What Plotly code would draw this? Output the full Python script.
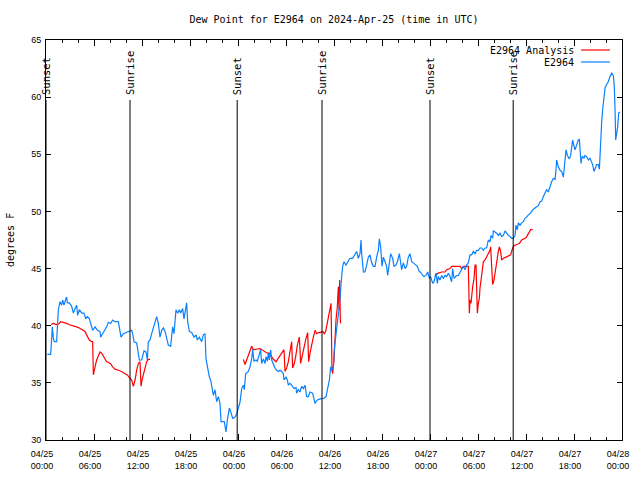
import pandas as pd
import plotly.graph_objects as go

# ---------------- data (hours after 2024-04-25 00:00 UTC, dew point in F) ----------------
blue_hours = [
    0.17, 0.58, 0.71, 0.79, 0.92, 1.04, 1.33, 1.54, 1.75, 1.96, 2.08, 2.25, 2.5, 2.58, 2.67,
    2.92, 3.21, 3.42, 3.63, 3.83, 3.96, 4.17, 4.46, 4.75, 4.96, 5.17, 5.42, 5.58, 5.83, 6.13,
    6.42, 6.75, 6.83, 7.08, 7.38, 7.58, 7.79, 8.08, 8.33, 8.63, 9.04, 9.25, 9.38, 9.67, 10.0,
    10.42, 10.71, 10.83, 11.0, 11.33, 11.54, 11.67, 11.96, 12.25, 12.5, 12.67, 12.79, 13.0, 13.21, 13.42,
    13.63, 13.83, 14.04, 14.25, 14.46, 14.67, 14.88, 15.08, 15.29, 15.58, 15.71, 15.83, 16.0, 16.13, 16.25,
    16.46, 16.67, 16.83, 17.08, 17.25, 17.5, 17.58, 17.71, 17.92, 18.21, 18.5, 18.75, 18.92, 19.17, 19.46,
    19.67, 19.88, 20.0, 20.17, 20.42, 20.58, 20.83, 20.92, 21.13, 21.33, 21.54, 21.75, 21.88, 22.29, 22.38,
    22.5, 22.67, 22.92, 23.08, 23.33, 23.63, 23.83, 24.04,
    24.25, 24.46, 24.67, 24.79, 24.96, 25.29, 25.5, 25.71, 25.83, 26.0, 26.25, 26.42, 26.67, 26.83, 26.96,
    27.17, 27.38, 27.5, 27.67, 27.79, 27.92, 28.08, 28.21, 28.42, 28.63, 28.83, 29.04, 29.25, 29.46, 29.67,
    29.75, 30.0, 30.17, 30.29, 30.5, 30.71, 31.0, 31.25, 31.33, 31.54, 31.75, 31.96, 32.17, 32.38, 32.58,
    32.79, 33.0, 33.33, 33.5, 33.63, 33.75, 33.92, 34.25, 34.46, 34.75, 35.0, 35.17,
    35.29, 35.42, 35.58, 35.71, 35.92, 36.04, 36.21, 36.33, 36.46, 36.67, 36.83, 36.96, 37.08, 37.25, 37.5,
    37.79, 38.0, 38.33, 38.63, 38.83, 39.04, 39.25, 39.38, 39.46, 39.67, 39.88, 40.08, 40.29, 40.5, 40.71,
    40.92, 41.13, 41.33, 41.54, 41.67, 41.83, 42.0, 42.17, 42.38, 42.58, 42.71, 42.92, 43.08, 43.33, 43.5,
    43.75, 43.92, 44.17, 44.33, 44.46, 44.67, 44.88, 45.08, 45.29, 45.5, 45.71, 45.92, 46.25, 46.42, 46.67,
    46.83, 47.08, 47.25, 47.5, 47.71, 47.92, 48.08, 48.33, 48.5, 48.75, 48.92, 49.04, 49.25, 49.46, 49.67,
    49.88, 50.08, 50.29, 50.5, 50.71, 50.83, 51.0, 51.25, 51.54, 51.75,
    51.96, 52.17, 52.38, 52.58, 52.79, 53.0, 53.21, 53.42, 53.63, 53.83, 54.04, 54.25, 54.46, 54.67, 54.88,
    55.08, 55.29, 55.5, 55.63, 55.83, 55.92, 56.13, 56.33, 56.54, 56.75, 56.96, 57.17, 57.38, 57.58, 57.79,
    58.0, 58.21, 58.42, 58.63, 58.75, 58.92, 59.04, 59.25, 59.46, 59.67, 59.88, 60.08, 60.29, 60.5, 60.71,
    60.92,
    61.33, 61.54, 61.75, 61.96, 62.17, 62.38, 62.58, 62.79, 63.0, 63.21, 63.42, 63.63, 63.75, 63.83, 64.04,
    64.25, 64.46, 64.67, 64.88, 65.0, 65.17, 65.42, 65.58, 65.71, 65.83, 66.0, 66.13, 66.33, 66.54, 66.67,
    66.75, 66.88, 66.96, 67.08, 67.25, 67.38, 67.58, 67.79, 68.0, 68.21, 68.33, 68.5, 68.63, 68.83, 69.04,
    69.17, 69.25, 69.33, 69.46, 69.58, 69.75, 69.88, 70.08, 70.29, 70.5, 70.71, 70.92, 71.04, 71.13, 71.21,
    71.33, 71.46, 71.58, 71.75,
]
blue_values = [
    37.5, 37.5, 38.9, 39.9, 38.9, 38.6, 38.6, 41.4, 42.1, 41.8, 42.25, 41.8, 42.4, 42.5, 42.0,
    42.0, 41.7, 41.1, 41.5, 41.8, 40.9, 41.4, 41.1, 41.1, 40.6, 40.8, 40.6, 40.1, 39.6, 39.9,
    39.6, 39.5, 39.0, 39.3, 39.6, 39.9, 40.3, 40.2, 40.5, 40.35, 40.35, 39.3, 39.0, 39.3, 39.4,
    39.5, 39.6, 39.3, 38.6, 38.5, 37.7, 37.0, 37.0, 37.8, 37.7, 37.0, 38.6, 38.75, 39.3, 39.8,
    40.2, 40.8, 40.2, 39.0, 39.6, 39.8, 39.5, 38.75, 38.3, 38.2, 39.0, 39.9, 39.3, 40.1, 41.4,
    41.1, 41.4, 41.1, 41.5, 40.6, 41.5, 42.0, 40.35, 39.5, 39.4, 39.0, 39.2, 38.75, 39.0, 38.6,
    39.2, 39.3, 37.1, 36.3, 35.5, 35.25, 34.4, 33.9, 34.4, 33.35, 33.8, 33.2, 31.6, 31.6, 31.2,
    30.7, 31.75, 32.8, 32.5, 31.9, 32.0, 32.3, 32.8,
    33.3, 34.5, 34.8, 34.4, 35.8, 36.0, 36.4, 37.1, 37.9, 36.9, 37.0, 36.9, 37.6, 37.9, 36.7,
    37.1, 36.7, 37.3, 36.9, 37.6, 37.0, 37.9, 37.0, 36.6, 36.3, 36.1, 36.0, 36.1, 36.0, 35.8,
    35.25, 35.5, 35.25, 34.8, 34.96, 34.8, 34.5, 34.6, 34.1, 34.4, 34.2, 34.7, 34.5, 34.8, 33.8,
    33.8, 34.2, 34.1, 33.5, 33.2, 33.35, 33.5, 33.6, 33.65, 33.65, 33.8, 34.4,
    34.5, 35.25, 36.4, 36.1, 36.4, 38.0, 39.0, 39.9, 40.5, 41.7, 42.8, 44.3, 45.2, 45.6, 45.3,
    45.6, 45.9, 45.9, 46.2, 46.5, 45.9, 46.3, 47.5, 46.3, 44.7, 44.7, 45.3, 46.0, 46.2, 45.5,
    45.2, 45.2, 46.0, 46.6, 47.6, 46.9, 45.2, 46.0, 45.6, 45.2, 44.4, 45.6, 46.3, 45.9, 45.2,
    45.3, 45.6, 46.3, 45.3, 44.9, 45.5, 45.0, 45.2, 46.0, 46.3, 45.6, 45.5, 45.3, 45.2, 44.7,
    44.7, 44.4, 44.3, 44.4, 44.7, 44.15, 44.3, 43.7, 43.85, 44.6, 43.7, 44.3, 44.0, 44.4, 44.15,
    44.4, 44.3, 44.6, 44.3, 43.85, 45.0, 44.15, 44.35, 44.4, 44.7,
    45.0, 45.2, 44.9, 45.3, 45.5, 46.2, 46.2, 46.5, 46.3, 46.6, 46.6, 46.8, 46.8, 46.6, 46.8,
    46.8, 47.5, 47.35, 47.9, 47.65, 48.3, 48.2, 48.1, 47.9, 48.1, 47.8, 47.9, 48.3, 48.1, 47.9,
    47.8, 47.65, 47.65, 47.9, 48.8, 48.4, 49.0, 48.8, 49.0, 49.1, 49.4, 49.5, 49.7, 49.8, 50.0,
    50.2,
    50.4, 50.5, 50.85, 50.9, 51.3, 51.6, 51.9, 51.7, 52.2, 52.6, 52.9, 52.8, 53.6, 54.5, 53.9,
    53.6, 53.5, 53.0, 54.5, 55.4, 54.9, 54.6, 54.9, 55.5, 56.25, 55.7, 55.4, 55.8, 56.25, 56.3,
    55.5, 54.2, 54.65, 54.8, 54.65, 54.9, 54.8, 54.5, 54.65, 54.2, 54.1, 53.5, 53.8, 54.1, 54.1,
    53.7, 54.8, 56.5, 57.85, 58.9, 59.75, 60.8, 61.1, 61.35, 61.8, 62.1, 61.9, 60.9, 58.9, 56.25,
    56.8, 57.4, 58.6, 58.7,
]

# Analysis series: three daytime runs, separated by gaps (None)
red_hours = [
    0.63, 0.92, 1.33, 1.67, 1.83, 2.17, 2.58, 3.0, 3.42, 3.83, 4.17, 4.46, 4.88, 5.08, 5.42,
    5.71, 5.83, 5.92, 6.0, 6.13, 6.33, 6.54, 6.75, 6.96, 7.17, 7.38, 7.58, 7.79, 8.08, 8.33,
    8.63, 9.04, 9.46, 9.88, 10.17, 10.5, 10.71, 10.92, 11.13, 11.33, 11.54, 11.75, 11.88, 12.0, 12.17,
    12.38, 12.58, 12.79, 13.0,
    18.0,
    24.67, 24.88, 25.08, 25.29, 25.5, 25.71, 25.92, 26.13, 26.42, 26.75, 26.96, 27.17, 27.38, 27.67, 27.92,
    28.21, 28.42, 28.75, 28.92, 29.17, 29.46, 29.75, 29.88, 30.08, 30.29, 30.5, 30.71, 30.83, 31.0, 31.21,
    31.42, 31.67, 31.83, 32.04, 32.25, 32.5, 32.71, 32.83, 33.0, 33.21, 33.42, 33.63, 33.83, 34.04, 34.25,
    34.58, 34.79, 34.96, 35.17, 35.38, 35.63, 35.75, 35.83, 36.0, 36.13, 36.25, 36.42, 36.54, 36.63, 36.71,
    36.79, 36.83,
    42.0,
    48.6, 49.04, 49.46, 49.88, 50.08, 50.5, 50.71, 51.13, 51.54, 51.75, 51.96, 52.17, 52.58, 52.79, 52.92,
    53.0, 53.13, 53.21, 53.33, 53.5, 53.63, 53.75, 53.83, 53.92, 54.04, 54.17, 54.25, 54.46, 54.67, 54.88,
    55.08, 55.29, 55.5, 55.58, 55.71, 55.83, 56.0, 56.13, 56.33, 56.54, 56.67, 56.83, 56.96, 57.17, 57.5,
    57.79, 58.08, 58.33, 58.5, 58.83, 59.17, 59.46, 59.75, 60.0, 60.17, 60.42, 60.58, 60.83,
]
red_values = [
    40.1, 40.2, 40.1, 40.2, 40.35, 40.3, 40.2, 40.06, 40.0, 39.9, 39.8, 39.7, 39.5, 39.2, 38.75,
    38.6, 38.6, 35.7, 36.1, 36.4, 37.0, 37.4, 37.7, 37.6, 37.3, 37.06, 36.85, 36.8, 36.65, 36.4,
    36.2, 36.1, 36.0, 35.8, 35.7, 35.4, 35.25, 34.7, 35.25, 36.1, 36.7, 36.85, 34.7, 35.25, 35.7,
    36.3, 36.85, 37.06, 37.06,
    None,
    37.06, 36.6, 37.0, 37.4, 37.7, 38.2, 37.9, 37.9, 37.96, 38.0, 37.9, 37.8, 37.7, 37.6, 37.6,
    37.3, 37.06, 36.85, 37.0, 37.3, 37.6, 37.9, 36.0, 36.3, 36.85, 37.9, 38.6, 36.3, 36.6, 37.3,
    38.3, 39.0, 36.7, 37.4, 38.2, 38.9, 39.4, 36.85, 37.6, 38.5, 39.0, 39.6, 39.3, 39.4, 39.4,
    39.5, 39.3, 39.5, 40.2, 40.9, 41.96, 36.1, 35.8, 37.0, 39.0, 40.5, 41.7, 43.4, 41.4, 44.0,
    40.5, 40.2,
    None,
    44.4, 44.6, 44.7, 44.7, 44.9, 45.0, 45.2, 45.2, 45.2, 45.2, 45.0, 45.2, 45.2, 45.2, 41.1,
    42.25, 41.96, 42.7, 43.4, 44.1, 45.3, 45.3, 43.2, 41.1, 41.96, 42.4, 43.3, 44.4, 45.6, 45.75,
    46.0, 46.3, 46.6, 46.9, 45.2, 43.6, 44.0, 44.7, 45.6, 46.5, 46.9, 46.5, 45.75, 45.9, 46.0,
    46.1, 46.2, 46.8, 47.0, 47.1, 47.2, 47.5, 47.6, 47.7, 47.9, 48.2, 48.4, 48.4,
]

event_labels = ["Sunset", "Sunrise", "Sunset", "Sunrise", "Sunset", "Sunrise"]
event_hours = [0.0, 10.5, 23.9, 34.5, 48.0, 58.4]

series_names = ["E2964 Analysis", "E2964"]
series_colors = ["#ff0000", "#0a80ff"]

title_text = "Dew Point for E2964 on 2024-Apr-25 (time in UTC)"
y_title = "degrees F"
y_range = [30, 65]
base = pd.Timestamp("2024-04-25 00:00")
span_hours = 72

assert len(blue_hours) == len(blue_values)
assert len(red_hours) == len(red_values)


def to_time(hours):
    return [base + pd.Timedelta(hours=h) for h in hours]


MONO = "DejaVu Sans Mono"
SANS = "Liberation Sans"

FIG_W, FIG_H = 640, 480

fig = go.Figure()
fig.add_trace(go.Scatter(x=to_time(red_hours), y=red_values, mode="lines",
                         name=series_names[0], connectgaps=False,
                         line=dict(color=series_colors[0], width=1.2)))
fig.add_trace(go.Scatter(x=to_time(blue_hours), y=blue_values, mode="lines",
                         name=series_names[1],
                         line=dict(color=series_colors[1], width=1.2)))

shapes = []
annotations = []
for lbl, h in zip(event_labels, event_hours):
    t = base + pd.Timedelta(hours=h)
    shapes.append(dict(type="line", xref="x", yref="paper", x0=t, x1=t, y0=0, y1=0.85,
                       line=dict(color="black", width=1)))
    annotations.append(dict(x=t, xref="x", y=0.8575, yref="paper", text=lbl, textangle=-90,
                            showarrow=False, xanchor="center", yanchor="bottom",
                            font=dict(family=MONO, size=10.5, color="black")))

# gnuplot-style key: text right-aligned, sample line on the right
key_rows_y = [0.975, 0.945]
for name, col, yy in zip(series_names, series_colors, key_rows_y):
    annotations.append(dict(x=0.920, xref="paper", y=yy, yref="paper", text=name,
                            showarrow=False, xanchor="right", yanchor="middle",
                            font=dict(family=MONO, size=10, color="black")))
    shapes.append(dict(type="line", xref="paper", yref="paper", x0=0.929, x1=0.979,
                       y0=yy, y1=yy, line=dict(color=col, width=1.2)))

annotations.append(dict(x=-0.0625, xref="paper", y=0.5, yref="paper", text=y_title,
                        textangle=-90, showarrow=False, xanchor="center", yanchor="middle",
                        font=dict(family=MONO, size=10, color="black")))

fig.update_layout(
    width=FIG_W, height=FIG_H,
    margin=dict(l=46, r=18, t=40, b=40, autoexpand=False),
    paper_bgcolor="white", plot_bgcolor="white",
    showlegend=False,
    title=dict(text=title_text, x=0.5, xref="paper", xanchor="center",
               y=1 - 19 / FIG_H, yanchor="middle",
               font=dict(family=MONO, size=10, color="black")),
    shapes=shapes, annotations=annotations,
    xaxis=dict(
        type="date", automargin=False,
        range=[base, base + pd.Timedelta(hours=span_hours)],
        tick0=base, dtick=6 * 3600 * 1000,
        tickformat="%m/%d<br>%H:%M",
        ticks="inside", ticklen=6, tickcolor="black", tickwidth=1,
        showline=True, linecolor="black", linewidth=1, mirror="ticks",
        showgrid=False, zeroline=False,
        tickfont=dict(family=SANS, size=9, color="black"),
        ticklabelshift=-4, ticklabelstandoff=5,
        minor=dict(dtick=2 * 3600 * 1000, ticks="inside", ticklen=3,
                   tickcolor="black", showgrid=False),
    ),
    yaxis=dict(
        range=y_range, dtick=5, automargin=False,
        ticks="inside", ticklen=5, tickcolor="black", tickwidth=1,
        showline=True, linecolor="black", linewidth=1, mirror="ticks",
        showgrid=False, zeroline=False,
        tickfont=dict(family=SANS, size=9, color="black"),
        ticklabelstandoff=2,
    ),
)

# remove the browser's default 8px page margin so the figure sits at the window corner
fig.write_html("out.html",
               config={"displayModeBar": False, "staticPlot": True},
               post_script="document.body.style.margin='0';document.body.style.overflow='hidden';")
